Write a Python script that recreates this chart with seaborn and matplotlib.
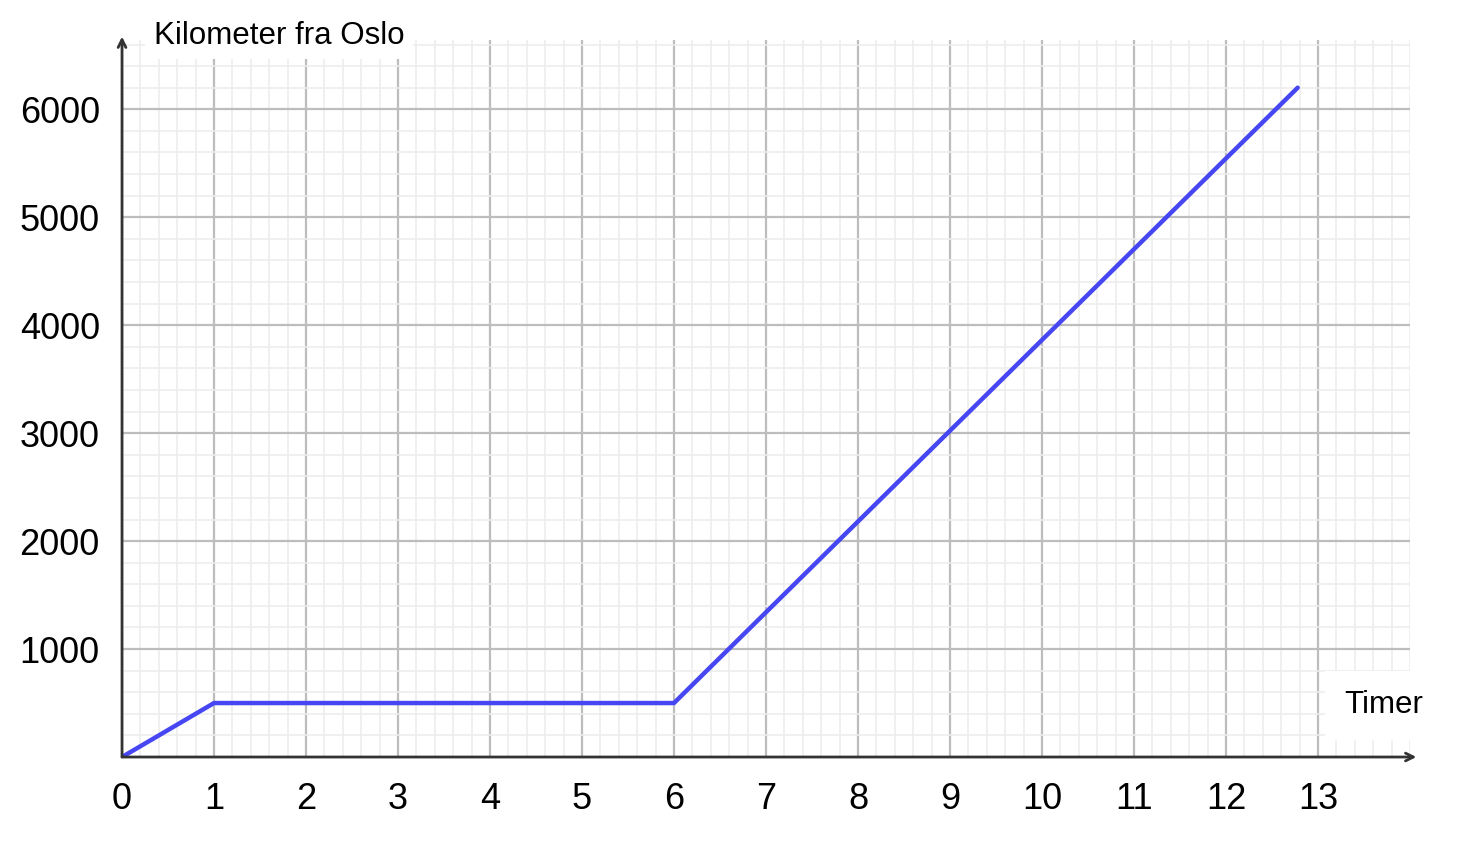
import matplotlib
matplotlib.use("Agg")
import matplotlib.pyplot as plt
from matplotlib.ticker import MultipleLocator
import seaborn as sns
import pandas as pd

# values
timer = [0, 1, 6, 12.78]
km = [0, 500, 500, 6200]
x_ticks = list(range(0, 14))
y_ticks = [1000, 2000, 3000, 4000, 5000, 6000]

sns.set_style("white")
plt.rcParams["font.family"] = ["Liberation Sans", "DejaVu Sans"]

df = pd.DataFrame({"Timer": timer, "Kilometer": km})

fig = plt.figure(figsize=(14.79, 8.55), dpi=100)
ax = fig.add_axes([0.0825, 0.1146, 0.8708, 0.8384])

ax.set_xlim(0, 14)
ax.set_ylim(0, 6640)

ax.xaxis.set_minor_locator(MultipleLocator(0.2))
ax.yaxis.set_minor_locator(MultipleLocator(200))
ax.set_xticks(x_ticks)
ax.set_yticks(y_ticks)
ax.grid(which="major", color="#bdbdbd", linewidth=1.6)
ax.grid(which="minor", color="#ededed", linewidth=1.2)
ax.set_axisbelow(True)

sns.lineplot(data=df, x="Timer", y="Kilometer", ax=ax, color="#4646f2",
             linewidth=3.2, zorder=3)

for side in ["top", "right", "left", "bottom"]:
    ax.spines[side].set_visible(False)

ax.tick_params(axis="both", which="both", length=0, labelsize=26, colors="black")
ax.tick_params(axis="x", pad=18)
ax.tick_params(axis="y", pad=16)
ax.set_xlabel("")
ax.set_ylabel("")

# axis lines with open arrow heads
ax.annotate("", xy=(0, 1.005), xytext=(0, 0), xycoords="axes fraction",
            arrowprops=dict(arrowstyle="->", color="#333333", lw=2,
                            shrinkA=0, shrinkB=0, mutation_scale=14),
            annotation_clip=False)
ax.annotate("", xy=(1.005, 0), xytext=(0, 0), xycoords="axes fraction",
            arrowprops=dict(arrowstyle="->", color="#333333", lw=2,
                            shrinkA=0, shrinkB=0, mutation_scale=14),
            annotation_clip=False)

fig.text(0.104, 0.958, "Kilometer fra Oslo", fontsize=22.5, va="center", ha="left",
         color="black", bbox=dict(facecolor="white", edgecolor="none", pad=6))
fig.text(0.909, 0.175, "Timer", fontsize=22.5, va="center", ha="left",
         color="black", bbox=dict(facecolor="white", edgecolor="none", pad=14))

fig.savefig("out.png", dpi=100)
